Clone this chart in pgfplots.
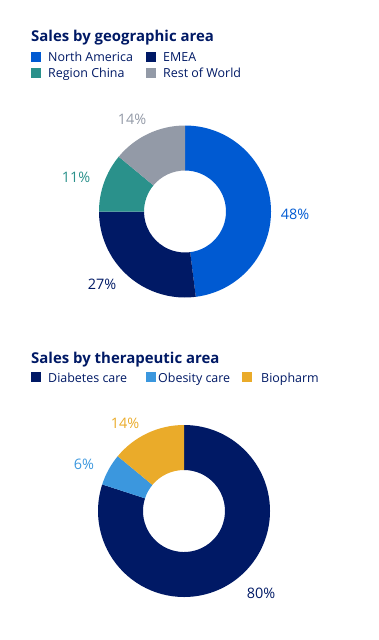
\documentclass[border=0pt]{standalone}
\usepackage{pgfplots}
\pgfplotsset{compat=1.18}
\usepackage{pgfplotstable}
\usepackage{fontspec}
\setmainfont{Open Sans}

\definecolor{nablue}{HTML}{005AD2}
\definecolor{navy}{HTML}{001965}
\definecolor{tealc}{HTML}{2A918B}
\definecolor{greyc}{HTML}{939AA7}
\definecolor{lightblue}{HTML}{3B97DE}
\definecolor{goldc}{HTML}{EAAB2A}
\colorlet{geo0}{nablue}\colorlet{geo1}{navy}\colorlet{geo2}{tealc}\colorlet{geo3}{greyc}
\colorlet{ther0}{navy}\colorlet{ther1}{lightblue}\colorlet{ther2}{goldc}

\pgfplotstableread{
name value
NorthAmerica 48
EMEA 27
RegionChina 11
RestOfWorld 14
}\geodata
\pgfplotstableread{
name value
Diabetes 80
Obesity 6
Biopharm 14
}\therdata

\newcommand\computeangles[2]{%
  \pgfplotstablegetrowsof{#1}%
  \pgfmathtruncatemacro\nrows{\pgfplotsretval-1}%
  \gdef\cumang{90}%
  \pgfplotsforeachungrouped \i in {0,...,\nrows}{%
    \pgfplotstablegetelem{\i}{value}\of{#1}%
    \pgfmathsetmacro\nxtang{\cumang-3.6*\pgfplotsretval}%
    \expandafter\xdef\csname #2s\i\endcsname{\cumang}%
    \expandafter\xdef\csname #2e\i\endcsname{\nxtang}%
    \xdef\cumang{\nxtang}%
  }%
}
\computeangles{\geodata}{geo}
\computeangles{\therdata}{ther}

\def\rin{0.4767}
\newcommand\donutwedge[2]{% prefix, index
  \fill[#1#2] (axis cs:{cos(\csname #1s#2\endcsname)},{sin(\csname #1s#2\endcsname)})
    arc[start angle=\csname #1s#2\endcsname, end angle=\csname #1e#2\endcsname, radius=86bp]
    -- (axis cs:{\rin*cos(\csname #1e#2\endcsname)},{\rin*sin(\csname #1e#2\endcsname)})
    arc[start angle=\csname #1e#2\endcsname, end angle=\csname #1s#2\endcsname, radius=41bp]
    -- cycle;
}

\pgfplotsset{donut/.style={hide axis, clip=false, scale only axis, width=172bp, height=172bp,
  xmin=-1, xmax=1, ymin=-1, ymax=1, anchor=center}}

\begin{document}
\begin{tikzpicture}[x=1bp,y=1bp]
\useasboundingbox (0,0) rectangle (378,-640);
\tikzset{ttl/.style={anchor=base west, inner sep=0, text=navy, font=\bfseries\fontsize{15}{18}\selectfont},
  lg/.style={anchor=base west, inner sep=0, text=navy, font=\fontsize{12.5}{15}\selectfont},
  pct/.style={inner sep=0, font=\fontsize{14.5}{17}\selectfont}}

% ---- Chart 1 ----
\node[ttl] at (31,-42) {Sales by geographic area};
\fill[nablue] (31,-52) rectangle (41,-62); \node[lg] at (48,-62) {North America};
\fill[navy] (146,-52) rectangle (156,-62); \node[lg] at (163,-62) {EMEA};
\fill[tealc] (31,-68) rectangle (41,-78); \node[lg] at (48,-78) {Region China};
\fill[greyc] (146,-68) rectangle (156,-78); \node[lg] at (163,-78) {Rest of World};

\begin{axis}[donut, at={(185bp,-211.5bp)}]
\pgfplotsinvokeforeach{0,...,3}{\donutwedge{geo}{#1}}
\node[pct, text=nablue] at (axis cs:1.28,-0.03) {48\%};
\node[pct, text=navy] at (axis cs:-0.965,-0.843) {27\%};
\node[pct, text=tealc] at (axis cs:-1.267,0.40) {11\%};
\node[pct, text=greyc] at (axis cs:-0.616,1.076) {14\%};
\end{axis}

% ---- Chart 2 ----
\node[ttl] at (31,-363) {Sales by therapeutic area};
\fill[navy] (31,-372) rectangle (41,-382); \node[lg] at (48,-382) {Diabetes care};
\fill[lightblue] (146,-372) rectangle (156,-382); \node[lg] at (158,-382) {Obesity care};
\fill[goldc] (242,-372) rectangle (252,-382); \node[lg] at (261,-382) {Biopharm};

\begin{axis}[donut, at={(184bp,-511bp)}]
\pgfplotsinvokeforeach{0,...,2}{\donutwedge{ther}{#1}}
\node[pct, text=navy] at (axis cs:0.895,-0.953) {80\%};
\node[pct, text=lightblue] at (axis cs:-1.163,0.547) {6\%};
\node[pct, text=goldc] at (axis cs:-0.686,1.023) {14\%};
\end{axis}
\end{tikzpicture}
\end{document}
